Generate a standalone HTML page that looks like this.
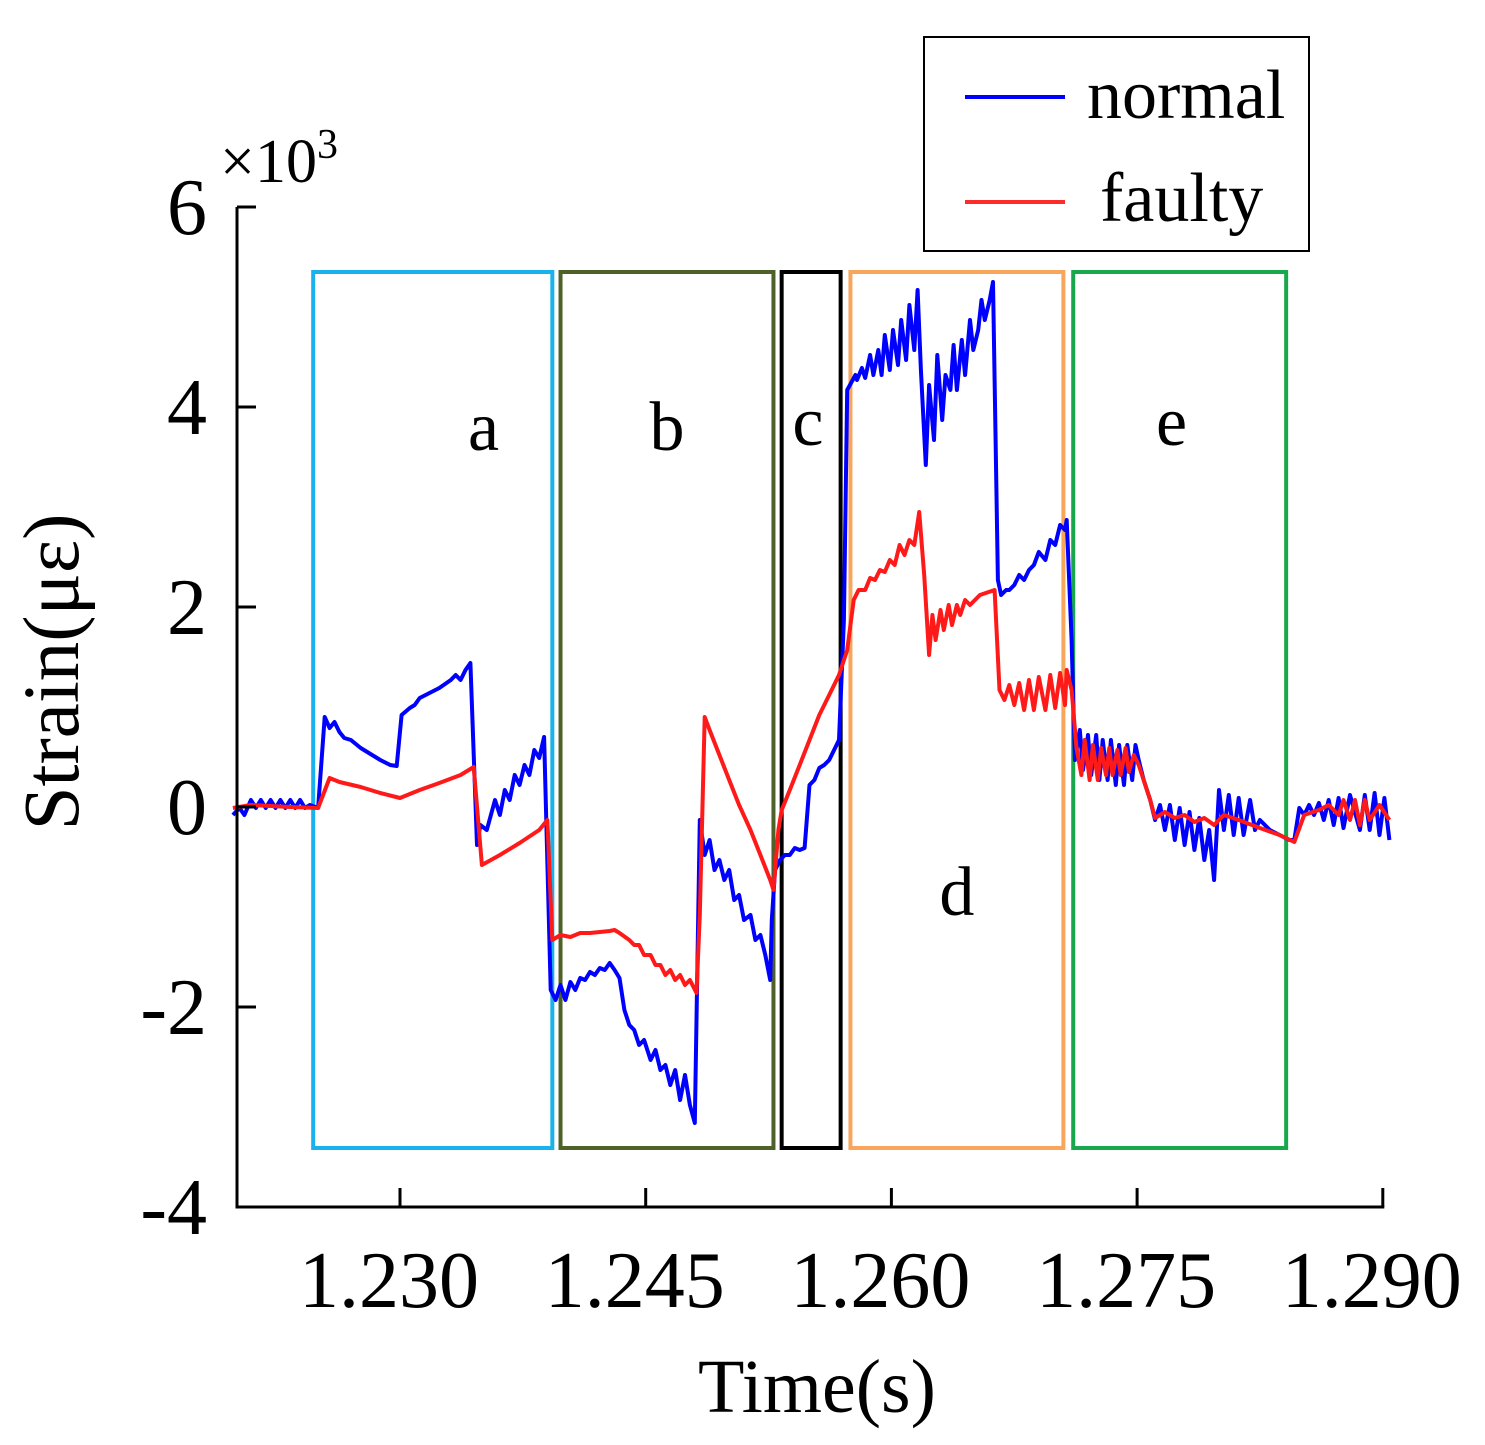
<!DOCTYPE html>
<html><head><meta charset="utf-8"><style>
html,body{margin:0;padding:0;background:#fff;}
svg{display:block;font-family:"Liberation Serif",serif;}
</style></head><body>
<svg id="chart" width="1485" height="1445" viewBox="0 0 1485 1445" xmlns="http://www.w3.org/2000/svg">
<g id="regions"></g>
<g id="series"></g>
<g id="axes"></g>
<text x="220" y="182" font-size="62">×10<tspan dy="-24" font-size="42">3</tspan></text>
<text transform="translate(78,672) rotate(-90)" text-anchor="middle" font-size="79">Strain(με)</text>
<text x="817" y="1412" text-anchor="middle" font-size="76">Time(s)</text>
<g>
<rect x="924" y="37" width="385" height="214" fill="#fff" stroke="#000" stroke-width="2"/>
<line x1="965" y1="97" x2="1065" y2="97" stroke="#0000ff" stroke-width="4"/>
<text x="1087" y="118" font-size="70">normal</text>
<line x1="965" y1="202" x2="1065" y2="202" stroke="#ff2a2a" stroke-width="4"/>
<text x="1100" y="221" font-size="70">faulty</text>
</g>
</svg>
<script>
const xTicks=[1230,1245,1260,1275,1290];
const xTickLabels=["1.230","1.245","1.260","1.275","1.290"];
const yTicks=[6,4,2,0,-2,-4];
const yTickLabels=["6","4","2","0","-2","-4"];
const regionNames=["a","b","c","d","e"];
const regionStart=[1224.7,1239.8,1253.3,1257.5,1271.1];
const regionEnd=[1239.3,1252.8,1256.9,1270.5,1284.1];
const regionTop=5.35, regionBottom=-3.41;
const regionLabelT=[1235.1,1246.3,1254.9,1264.0,1277.1];
const regionLabelV=[3.57,3.57,3.62,-1.08,3.62];
const regionColors=["#1ab2ec","#4e6128","#000000","#f7a65c","#18a84b"];
const normalT=[1219.8,1220.2,1220.5,1220.9,1221.2,1221.5,1221.8,1222.1,1222.4,1222.7,1223.0,1223.3,1223.6,1223.9,1224.2,1224.5,1225.0,1225.4,1225.7,1226.0,1226.3,1226.6,1227.0,1227.6,1228.2,1228.8,1229.4,1229.8,1230.1,1230.6,1230.9,1231.2,1231.8,1232.4,1233.1,1233.4,1233.7,1234.0,1234.3,1234.7,1234.9,1235.3,1235.8,1236.1,1236.4,1236.7,1237.0,1237.3,1237.6,1237.9,1238.2,1238.5,1238.8,1239.2,1239.5,1239.8,1240.1,1240.4,1240.7,1241.0,1241.3,1241.6,1241.9,1242.2,1242.5,1242.8,1243.1,1243.4,1243.7,1244.0,1244.3,1244.6,1244.9,1245.3,1245.6,1245.9,1246.2,1246.5,1246.8,1247.1,1247.4,1247.7,1248.0,1248.3,1248.6,1248.9,1249.2,1249.5,1249.8,1250.1,1250.4,1250.7,1251.0,1251.4,1251.7,1252.0,1252.3,1252.6,1252.7,1252.9,1253.2,1253.5,1253.8,1254.1,1254.4,1254.7,1255.0,1255.3,1255.6,1255.9,1256.2,1256.5,1256.8,1257.1,1257.3,1257.8,1257.9,1258.2,1258.4,1258.7,1258.9,1259.2,1259.4,1259.6,1259.9,1260.1,1260.4,1260.6,1260.9,1261.1,1261.4,1261.6,1261.8,1262.1,1262.3,1262.6,1262.8,1263.1,1263.3,1263.6,1263.8,1264.0,1264.3,1264.5,1264.8,1265.0,1265.3,1265.5,1265.7,1266.0,1266.2,1266.5,1266.7,1267.0,1267.2,1267.5,1267.8,1268.1,1268.4,1268.7,1269.0,1269.4,1269.7,1270.0,1270.3,1270.6,1270.7,1271.0,1271.2,1271.5,1271.7,1272.0,1272.2,1272.5,1272.7,1272.9,1273.2,1273.4,1273.7,1273.9,1274.2,1274.4,1274.7,1274.9,1275.1,1275.4,1275.8,1276.1,1276.4,1276.7,1277.0,1277.3,1277.6,1277.9,1278.2,1278.5,1278.8,1279.1,1279.4,1279.7,1280.0,1280.3,1280.6,1280.9,1281.2,1281.5,1281.9,1282.2,1282.5,1283.1,1283.7,1284.3,1284.6,1284.9,1285.2,1285.5,1285.8,1286.1,1286.4,1286.7,1287.0,1287.3,1287.6,1288.0,1288.6,1288.9,1289.2,1289.5,1289.8,1290.1,1290.4];
const normalV=[-0.08,-0.01,-0.08,0.07,-0.01,0.07,-0.01,0.07,-0.01,0.07,-0.01,0.07,-0.01,0.07,-0.01,0.02,-0.01,0.90,0.79,0.85,0.75,0.69,0.67,0.59,0.53,0.47,0.42,0.41,0.92,0.99,1.02,1.09,1.14,1.19,1.27,1.32,1.27,1.37,1.44,-0.38,-0.18,-0.23,0.07,-0.08,0.17,0.07,0.32,0.22,0.42,0.32,0.57,0.49,0.70,-1.83,-1.93,-1.78,-1.93,-1.75,-1.83,-1.71,-1.73,-1.65,-1.68,-1.61,-1.63,-1.56,-1.63,-1.71,-2.03,-2.18,-2.23,-2.38,-2.33,-2.53,-2.43,-2.63,-2.58,-2.78,-2.63,-2.93,-2.68,-2.98,-3.16,-0.13,-0.48,-0.33,-0.63,-0.53,-0.73,-0.63,-0.93,-0.88,-1.13,-1.08,-1.33,-1.28,-1.48,-1.73,-1.13,-0.63,-0.53,-0.48,-0.48,-0.41,-0.43,-0.41,0.22,0.27,0.39,0.42,0.47,0.57,0.67,1.87,4.17,4.32,4.27,4.39,4.29,4.52,4.32,4.57,4.32,4.72,4.37,4.77,4.42,4.87,4.47,5.02,4.57,5.17,4.37,3.42,4.22,3.67,4.52,3.87,4.32,4.17,4.62,4.17,4.67,4.32,4.87,4.57,4.77,5.07,4.87,5.07,5.25,2.27,2.12,2.17,2.17,2.22,2.32,2.27,2.37,2.42,2.55,2.47,2.67,2.62,2.82,2.77,2.87,1.67,0.47,0.77,0.37,0.72,0.32,0.72,0.27,0.67,0.27,0.67,0.22,0.62,0.22,0.62,0.27,0.62,0.47,0.27,0.07,-0.13,0.02,-0.23,0.02,-0.33,-0.01,-0.38,-0.05,-0.43,-0.11,-0.53,-0.23,-0.73,0.17,-0.23,0.12,-0.28,0.09,-0.28,0.07,-0.23,-0.13,-0.23,-0.28,-0.33,-0.33,-0.01,-0.08,0.02,-0.08,0.04,-0.13,0.07,-0.18,0.09,-0.21,0.12,-0.23,0.12,-0.23,0.14,-0.28,0.09,-0.33];
const faultyT=[1219.8,1220.9,1222.1,1223.3,1225.0,1225.7,1226.3,1227.6,1228.8,1230.0,1231.2,1232.4,1233.7,1234.5,1235.0,1236.1,1237.3,1238.5,1239.0,1239.3,1239.8,1240.4,1241.0,1241.6,1242.2,1242.8,1243.1,1243.4,1244.0,1244.3,1244.6,1244.9,1245.3,1245.6,1245.9,1246.2,1246.5,1246.8,1247.1,1247.4,1247.7,1248.1,1248.3,1248.6,1248.9,1249.5,1250.1,1250.7,1251.4,1252.0,1252.6,1252.8,1253.1,1253.3,1253.8,1254.4,1255.0,1255.6,1256.2,1256.8,1257.3,1257.7,1258.0,1258.4,1258.7,1259.0,1259.3,1259.6,1259.9,1260.2,1260.5,1260.8,1261.1,1261.4,1261.7,1262.0,1262.3,1262.5,1262.7,1263.0,1263.2,1263.5,1263.7,1264.0,1264.2,1264.5,1264.8,1265.4,1266.3,1266.6,1266.9,1267.2,1267.5,1267.8,1268.1,1268.4,1268.7,1269.0,1269.4,1269.7,1270.0,1270.3,1270.6,1270.7,1271.0,1271.3,1271.6,1271.8,1272.1,1272.3,1272.6,1272.8,1273.1,1273.3,1273.5,1273.8,1274.0,1274.3,1274.5,1274.8,1275.1,1275.8,1276.1,1276.7,1277.3,1277.9,1278.5,1279.1,1279.7,1280.3,1281.2,1282.5,1283.7,1284.6,1285.2,1286.1,1286.7,1287.3,1287.6,1288.0,1288.3,1288.6,1288.9,1289.2,1289.8,1290.4];
const faultyV=[-0.01,0.02,0.01,0.00,-0.01,0.29,0.25,0.20,0.14,0.09,0.17,0.24,0.32,0.40,-0.58,-0.48,-0.36,-0.23,-0.13,-1.33,-1.28,-1.30,-1.26,-1.26,-1.25,-1.24,-1.23,-1.26,-1.33,-1.38,-1.38,-1.48,-1.48,-1.58,-1.58,-1.68,-1.63,-1.73,-1.68,-1.78,-1.73,-1.86,-1.08,0.90,0.77,0.52,0.27,0.02,-0.23,-0.48,-0.73,-0.83,-0.23,-0.03,0.17,0.42,0.67,0.92,1.12,1.32,1.57,2.07,2.17,2.17,2.29,2.27,2.37,2.35,2.47,2.42,2.62,2.52,2.67,2.62,2.95,2.32,1.52,1.92,1.67,1.97,1.77,2.02,1.82,2.02,1.92,2.07,2.02,2.12,2.17,1.17,1.07,1.22,1.02,1.24,0.97,1.27,0.97,1.30,0.97,1.32,0.99,1.34,1.02,1.37,1.17,0.59,0.32,0.67,0.27,0.62,0.27,0.59,0.32,0.59,0.32,0.57,0.32,0.59,0.35,0.52,0.42,0.07,-0.11,-0.05,-0.11,-0.08,-0.15,-0.11,-0.18,-0.08,-0.13,-0.21,-0.28,-0.35,-0.08,-0.03,0.02,-0.08,0.07,-0.13,0.07,-0.18,0.07,-0.13,0.02,-0.13];

const NS="http://www.w3.org/2000/svg";
function xs(t){return 400+(t-1230)*16.38;}
function ys(v){return 807-v*100;}
function mk(tag,attrs,parent){const e=document.createElementNS(NS,tag);for(const k in attrs)e.setAttribute(k,attrs[k]);parent.appendChild(e);return e;}

const reg=document.getElementById('regions');
regionNames.forEach((n,i)=>{
  const r=mk('rect',{x:xs(regionStart[i]),y:ys(regionTop),width:xs(regionEnd[i])-xs(regionStart[i]),height:ys(regionBottom)-ys(regionTop),fill:'none',stroke:regionColors[i],'stroke-width':4},reg);
  
  
  const t=mk('text',{x:xs(regionLabelT[i]),y:ys(regionLabelV[i]),'text-anchor':'middle','font-size':70},reg);
  t.textContent=n;
  
  
});

const ser=document.getElementById('series');
function line(T,V,color,name){
  const d=T.map((t,i)=>(i?'L':'M')+xs(t).toFixed(1)+' '+ys(V[i]).toFixed(1)).join(' ');
  const p=mk('path',{d:d,fill:'none',stroke:color,'stroke-width':4,'stroke-linejoin':'round'},ser);
  
  
}
line(normalT,normalV,'#0000ff','normal-line');
line(faultyT,faultyV,'#ff1a1a','faulty-line');

const ax=document.getElementById('axes');
const yl=mk('line',{x1:237,y1:ys(6),x2:237,y2:ys(-4)+1.5,stroke:'#000','stroke-width':3},ax);


const xl=mk('line',{x1:235.5,y1:ys(-4),x2:xs(1290)+1.5,y2:ys(-4),stroke:'#000','stroke-width':3},ax);


yTicks.forEach((v,i)=>{
  const tk=mk('line',{x1:237,y1:ys(v),x2:256,y2:ys(v),stroke:'#000','stroke-width':3},ax);
  
  
  const tl=mk('text',{x:207,y:ys(v)+27,'text-anchor':'end','font-size':80},ax);
  tl.textContent=yTickLabels[i];
  
  
});
xTicks.forEach((t,i)=>{
  const tk=mk('line',{x1:xs(t),y1:ys(-4),x2:xs(t),y2:ys(-4)-19,stroke:'#000','stroke-width':3},ax);
  
  
  const tl=mk('text',{x:xs(t)-11,y:1307,'text-anchor':'middle','font-size':80},ax);
  tl.textContent=xTickLabels[i];
  
  
});
</script>
</body></html>
